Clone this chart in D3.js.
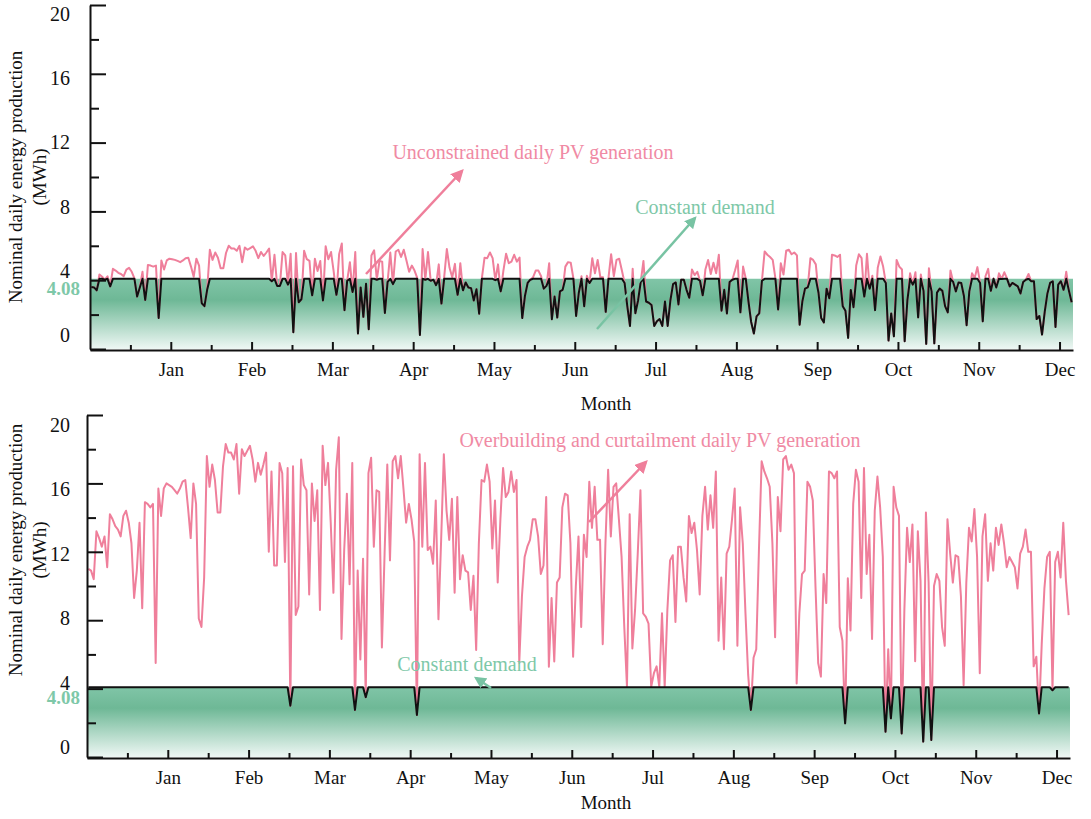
<!DOCTYPE html>
<html>
<head>
<meta charset="utf-8">
<script src="https://cdn.jsdelivr.net/npm/d3@7"></script>
<style>
  body { margin: 0; background: #fff; }
  svg { display: block; }
  text { font-family: "Liberation Serif", "Times New Roman", serif; }
</style>
</head>
<body>
<svg id="chart" width="1091" height="819"></svg>
<script>
// month names sit on every 30th day, minor ticks every 15 days
const monthLabels = ["Jan", "Feb", "Mar", "Apr", "May", "Jun", "Jul", "Aug", "Sep", "Oct", "Nov", "Dec"];
const xTickDays = [15, 30, 45, 60, 75, 90, 105, 120, 135, 150, 165, 180, 195, 210, 225, 240, 255, 270, 285, 300, 315, 330, 345, 360];
const yTicks = [0, 2, 4, 6, 8, 10, 12, 14, 16, 18, 20];
const yLabels = [0, 4, 8, 12, 16, 20];
const demand = 4.08;

// daily PV output (MWh), one value per day
const unconstrainedPV = [
  3.61, 3.58, 3.41, 4.33, 4.20, 4.03, 4.23, 3.64, 4.66, 4.56,
  4.43, 4.36, 4.23, 4.62, 4.72, 4.49, 4.10, 3.05, 3.58, 4.49,
  2.85, 4.89, 4.85, 4.79, 4.85, 1.80, 5.15, 4.62, 5.15, 5.25,
  5.22, 5.18, 5.12, 5.05, 5.15, 5.28, 5.31, 4.79, 4.20, 5.25,
  4.85, 2.66, 2.49, 3.44, 5.77, 5.18, 5.61, 5.31, 4.69, 4.69,
  5.58, 6.00, 5.84, 5.84, 5.71, 6.00, 5.05, 5.90, 5.77, 5.87,
  5.97, 5.71, 5.28, 5.64, 5.41, 5.61, 5.84, 3.94, 5.48, 3.67,
  3.67, 5.64, 5.44, 3.74, 5.54, 0.98, 5.58, 2.72, 2.89, 5.71,
  5.22, 5.12, 3.12, 5.25, 4.53, 5.12, 2.82, 5.97, 5.22, 5.64,
  4.49, 3.15, 5.51, 6.13, 2.26, 3.97, 5.05, 3.31, 5.64, 0.90,
  3.58, 1.87, 3.80, 1.15, 5.44, 5.74, 4.03, 5.12, 5.08, 2.10,
  3.90, 5.61, 3.77, 5.67, 5.77, 5.35, 5.77, 5.15, 4.49, 4.85,
  4.56, 4.13, 0.81, 5.81, 4.03, 5.64, 3.97, 4.03, 3.71, 4.92,
  2.64, 4.17, 5.81, 4.72, 4.17, 4.95, 3.15, 4.99, 3.41, 3.87,
  3.58, 3.54, 2.82, 3.48, 2.05, 4.10, 5.31, 5.28, 5.61, 5.28,
  4.00, 4.92, 3.35, 4.56, 5.54, 4.99, 5.08, 5.48, 5.08, 5.31,
  1.80, 3.08, 3.84, 4.03, 4.17, 4.56, 4.56, 4.23, 3.51, 3.67,
  4.99, 1.73, 3.05, 1.83, 3.35, 3.44, 4.79, 5.05, 5.02, 4.10,
  1.92, 3.27, 4.23, 2.49, 4.26, 3.84, 5.28, 4.40, 5.18, 4.17,
  4.17, 2.16, 4.10, 5.51, 4.23, 5.18, 5.25, 4.56, 3.84, 2.49,
  1.34, 4.66, 2.08, 2.82, 3.90, 5.12, 2.76, 2.69, 2.56, 1.34,
  1.61, 1.74, 1.34, 2.76, 1.34, 2.82, 3.77, 3.87, 2.59, 4.03,
  4.03, 3.44, 2.98, 4.62, 4.30, 4.49, 3.97, 3.12, 4.62, 5.18,
  4.36, 5.02, 4.40, 5.48, 2.23, 3.44, 2.07, 3.90, 4.03, 4.56,
  5.15, 2.13, 4.79, 4.10, 2.76, 1.57, 0.90, 1.90, 2.07, 3.97,
  5.67, 5.48, 5.35, 5.18, 4.10, 2.30, 4.99, 4.33, 5.71, 5.77,
  5.51, 5.61, 5.44, 1.41, 2.76, 3.51, 3.58, 5.28, 5.18, 4.92,
  3.27, 1.80, 1.54, 3.51, 2.95, 5.48, 5.44, 5.35, 5.48, 2.49,
  2.23, 0.65, 3.43, 2.43, 4.85, 5.51, 5.28, 3.05, 5.54, 3.51,
  4.26, 2.26, 4.72, 5.38, 4.79, 3.84, 0.49, 2.07, 0.74, 5.18,
  4.79, 4.62, 0.45, 2.82, 4.40, 3.74, 4.46, 1.84, 4.33, 3.38,
  0.30, 4.69, 3.35, 0.33, 3.28, 3.51, 3.38, 2.49, 2.13, 4.56,
  3.90, 3.35, 3.87, 3.84, 3.08, 1.38, 3.35, 4.40, 4.13, 4.76,
  3.84, 1.61, 4.23, 4.66, 3.38, 4.10, 3.58, 4.40, 4.07, 4.46,
  4.10, 3.64, 3.84, 3.74, 3.64, 3.23, 3.90, 4.03, 4.36, 3.94,
  3.94, 1.74, 1.92, 0.84, 2.16, 3.23, 3.84, 3.94, 1.28, 3.74,
  3.94, 3.44, 4.49, 3.38, 2.72
];

const overbuildPV = [
  11.0, 10.9, 10.4, 13.2, 12.8, 12.3, 12.9, 11.1, 14.2, 13.9,
  13.5, 13.3, 12.9, 14.1, 14.4, 13.7, 12.5, 9.3, 10.9, 13.7,
  8.7, 14.9, 14.8, 14.6, 14.8, 5.5, 15.7, 14.1, 15.7, 16.0,
  15.9, 15.8, 15.6, 15.4, 15.7, 16.1, 16.2, 14.6, 12.8, 16.0,
  14.8, 8.1, 7.6, 10.5, 17.6, 15.8, 17.1, 16.2, 14.3, 14.3,
  17.0, 18.3, 17.8, 17.8, 17.4, 18.3, 15.4, 18.0, 17.6, 17.9,
  18.2, 17.4, 16.1, 17.2, 16.5, 17.1, 17.8, 12.0, 16.7, 11.2,
  11.2, 17.2, 16.6, 11.4, 16.9, 3.0, 17.0, 8.3, 8.8, 17.4,
  15.9, 15.6, 9.5, 16.0, 13.8, 15.6, 8.6, 18.2, 15.9, 17.2,
  13.7, 9.6, 16.8, 18.7, 6.9, 12.1, 15.4, 10.1, 17.2, 2.75,
  10.9, 5.7, 11.6, 3.5, 16.6, 17.5, 12.3, 15.6, 15.5, 6.4,
  11.9, 17.1, 11.5, 17.3, 17.6, 16.3, 17.6, 15.7, 13.7, 14.8,
  13.9, 12.6, 2.46, 17.7, 12.3, 17.2, 12.1, 12.3, 11.3, 15.0,
  8.05, 12.7, 17.7, 14.4, 12.7, 15.1, 9.6, 15.2, 10.4, 11.8,
  10.9, 10.8, 8.6, 10.6, 6.26, 12.5, 16.2, 16.1, 17.1, 16.1,
  12.2, 15.0, 10.2, 13.9, 16.9, 15.2, 15.5, 16.7, 15.5, 16.2,
  5.5, 9.4, 11.7, 12.3, 12.7, 13.9, 13.9, 12.9, 10.7, 11.2,
  15.2, 5.28, 9.3, 5.58, 10.2, 10.5, 14.6, 15.4, 15.3, 12.5,
  5.86, 9.96, 12.9, 7.6, 13.0, 11.7, 16.1, 13.4, 15.8, 12.7,
  12.7, 6.6, 12.5, 16.8, 12.9, 15.8, 16.0, 13.9, 11.7, 7.6,
  4.1, 14.2, 6.35, 8.6, 11.9, 15.6, 8.4, 8.2, 7.8, 4.1,
  4.9, 5.3, 4.1, 8.4, 4.1, 8.6, 11.5, 11.8, 7.9, 12.3,
  12.3, 10.5, 9.1, 14.1, 13.1, 13.7, 12.1, 9.5, 14.1, 15.8,
  13.3, 15.3, 13.4, 16.7, 6.8, 10.5, 6.3, 11.9, 12.3, 13.9,
  15.7, 6.5, 14.6, 12.5, 8.4, 4.8, 2.75, 5.8, 6.3, 12.1,
  17.3, 16.7, 16.3, 15.8, 12.5, 7.0, 15.2, 13.2, 17.4, 17.6,
  16.8, 17.1, 16.6, 4.3, 8.4, 10.7, 10.9, 16.1, 15.8, 15.0,
  9.96, 5.5, 4.7, 10.7, 9.0, 16.7, 16.6, 16.3, 16.7, 7.6,
  6.8, 1.97, 10.45, 7.4, 14.8, 16.8, 16.1, 9.3, 16.9, 10.7,
  13.0, 6.9, 14.4, 16.4, 14.6, 11.7, 1.48, 6.3, 2.26, 15.8,
  14.6, 14.1, 1.38, 8.6, 13.4, 11.4, 13.6, 5.6, 13.2, 10.3,
  0.9, 14.3, 10.2, 1.0, 10.0, 10.7, 10.3, 7.6, 6.5, 13.9,
  11.9, 10.2, 11.8, 11.7, 9.4, 4.2, 10.2, 13.4, 12.6, 14.5,
  11.7, 4.9, 12.9, 14.2, 10.3, 12.5, 10.9, 13.4, 12.4, 13.6,
  12.5, 11.1, 11.7, 11.4, 11.1, 9.86, 11.9, 12.3, 13.3, 12.0,
  12.0, 5.3, 5.86, 2.55, 6.6, 9.86, 11.7, 12.0, 3.9, 11.4,
  12.0, 10.5, 13.7, 10.3, 8.3
];

const PINK = "#ef7f9b";
const PINK_TEXT = "#f08aa4";
const GREEN_TEXT = "#7ec8a8";
const FONT = "'Liberation Serif', 'Times New Roman', serif";

const svg = d3.select("#chart");
const defs = svg.append("defs");

const grad = defs.append("linearGradient")
  .attr("id", "demandFill")
  .attr("x1", 0).attr("y1", 0).attr("x2", 0).attr("y2", 1);
grad.append("stop").attr("offset", "0%").attr("stop-color", "#80c5a7");
grad.append("stop").attr("offset", "30%").attr("stop-color", "#6eb896");
grad.append("stop").attr("offset", "100%").attr("stop-color", "#eef7f4");

function addMarker(id, color, size){
  defs.append("marker")
    .attr("id", id)
    .attr("viewBox", "0 0 10 10")
    .attr("refX", 8).attr("refY", 5)
    .attr("markerWidth", size).attr("markerHeight", size)
    .attr("markerUnits", "userSpaceOnUse")
    .attr("orient", "auto")
    .append("path")
    .attr("d", "M0,0 L10,5 L0,10 z")
    .attr("fill", color);
}
addMarker("headPink", PINK, 13);
addMarker("headGreen", "#78c3a3", 12);

const panels = [
  {
    series: unconstrainedPV,
    x0: 90, x1: 1073, yTop: 5, yBot: 349,
    labelTop: 14, labelBot: 335,
    titleY: 177, monthY: 410, tickPad: 13,
    notes: [
      {text: "Unconstrained daily PV generation", x: 533, y: 159, color: PINK_TEXT,
       arrow: [366, 274, 462, 171], head: "headPink", stroke: PINK},
      {text: "Constant demand", x: 705, y: 214, color: GREEN_TEXT,
       arrow: [597, 329, 695, 218], head: "headGreen", stroke: "#78c3a3"}
    ]
  },
  {
    series: overbuildPV,
    x0: 87, x1: 1070, yTop: 415, yBot: 757,
    labelTop: 425, labelBot: 747,
    titleY: 550, monthY: 809, tickPad: 13,
    notes: [
      {text: "Overbuilding and curtailment daily PV generation", x: 660, y: 447, color: PINK_TEXT,
       arrow: [589, 522, 646, 462], head: "headPink", stroke: PINK},
      {text: "Constant demand", x: 467, y: 671, color: GREEN_TEXT,
       arrow: [491, 688, 476, 678], head: "headGreen", stroke: "#78c3a3"}
    ]
  }
];

function drawPanel(p){
  const g = svg.append("g");
  const x = d3.scaleLinear().domain([0, 365]).range([p.x0, p.x1]);
  const y = d3.scaleLinear().domain([0, 20]).range([p.yBot, p.yTop]);
  const yLab = d3.scaleLinear().domain([0, 20]).range([p.labelBot, p.labelTop]);

  // demand band
  g.append("path")
    .datum([0, 365])
    .attr("d", d3.area().x(d => x(d)).y0(y(0)).y1(y(demand)))
    .attr("fill", "url(#demandFill)");

  const line = d3.line()
    .x((d, i) => x(i + 0.5))
    .y(d => y(d));

  g.append("path")
    .datum(p.series)
    .attr("d", line)
    .attr("fill", "none")
    .attr("stroke", PINK)
    .attr("stroke-width", 2)
    .attr("stroke-linejoin", "round");

  // supplied energy = min(generation, demand)
  g.append("path")
    .datum(p.series.map(v => Math.min(v, demand)))
    .attr("d", line)
    .attr("fill", "none")
    .attr("stroke", "#111")
    .attr("stroke-width", 2)
    .attr("stroke-linejoin", "round");

  // x axis
  const xAxis = g.append("g")
    .attr("transform", `translate(0,${p.yBot + 1})`)
    .call(d3.axisBottom(x)
      .tickValues(xTickDays)
      .tickSizeInner(-8)
      .tickSizeOuter(0)
      .tickPadding(p.tickPad)
      .tickFormat(d => d % 30 === 0 ? monthLabels[d / 30 - 1] : ""));
  xAxis.select(".domain").attr("stroke", "#111").attr("stroke-width", 2);
  xAxis.selectAll(".tick line")
    .attr("stroke", "#111").attr("stroke-width", 2)
    .attr("y2", d => d % 30 === 0 ? -8 : -5);
  xAxis.selectAll(".tick text")
    .attr("font-family", FONT).attr("font-size", 19).attr("fill", "#111");

  // y axis, ticks point inward
  const yAxis = g.append("g")
    .attr("transform", `translate(${p.x0},0)`)
    .call(d3.axisLeft(y)
      .tickValues(yTicks)
      .tickSizeInner(-16)
      .tickSizeOuter(0)
      .tickFormat(""));
  yAxis.select(".domain").attr("stroke", "#111").attr("stroke-width", 2);
  yAxis.selectAll(".tick line")
    .attr("stroke", "#111").attr("stroke-width", 2)
    .attr("x2", d => d % 4 === 0 ? 16 : 9);

  g.selectAll(".ylab")
    .data(yLabels)
    .join("text")
    .attr("x", 70)
    .attr("y", d => yLab(d))
    .attr("dy", "0.35em")
    .attr("text-anchor", "end")
    .attr("font-size", 20)
    .attr("fill", "#111")
    .text(d => d);

  g.append("text")
    .attr("x", 80)
    .attr("y", y(demand) + 10)
    .attr("dy", "0.35em")
    .attr("text-anchor", "end")
    .attr("font-size", 19)
    .attr("font-weight", "bold")
    .attr("fill", GREEN_TEXT)
    .text(demand.toFixed(2));

  // axis titles
  g.append("text")
    .attr("transform", `translate(22,${p.titleY}) rotate(-90)`)
    .attr("text-anchor", "middle")
    .attr("font-size", 19)
    .attr("fill", "#111")
    .text("Nominal daily energy production");
  g.append("text")
    .attr("transform", `translate(46,${p.titleY}) rotate(-90)`)
    .attr("text-anchor", "middle")
    .attr("font-size", 19)
    .attr("fill", "#111")
    .text("(MWh)");
  g.append("text")
    .attr("x", 606)
    .attr("y", p.monthY)
    .attr("text-anchor", "middle")
    .attr("font-size", 19)
    .attr("fill", "#111")
    .text("Month");

  // annotations
  p.notes.forEach(n => {
    g.append("text")
      .attr("x", n.x).attr("y", n.y)
      .attr("text-anchor", "middle")
      .attr("font-size", 20)
      .attr("fill", n.color)
      .text(n.text);
    g.append("line")
      .attr("x1", n.arrow[0]).attr("y1", n.arrow[1])
      .attr("x2", n.arrow[2]).attr("y2", n.arrow[3])
      .attr("stroke", n.stroke)
      .attr("stroke-width", 2.5)
      .attr("marker-end", `url(#${n.head})`);
  });
}

panels.forEach(drawPanel);
</script>
</body>
</html>
